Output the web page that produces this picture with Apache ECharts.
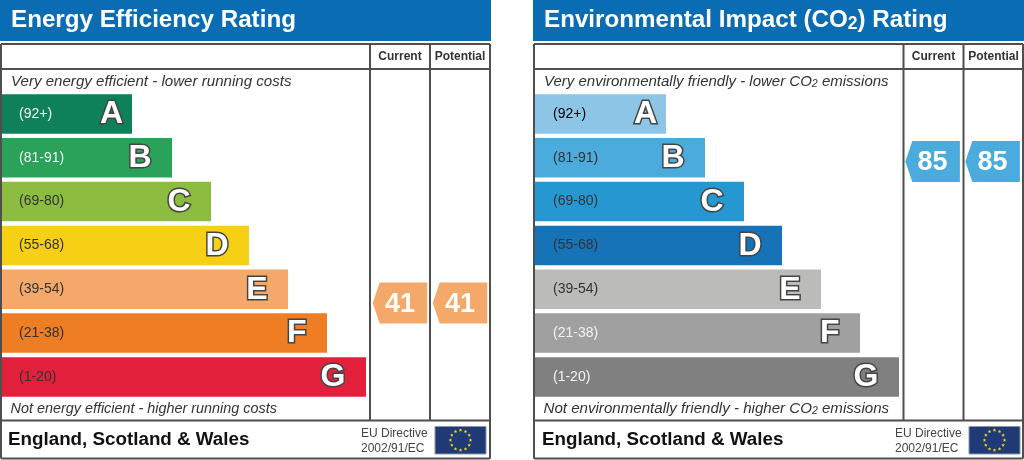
<!DOCTYPE html>
<html><head><meta charset="utf-8">
<style>html,body{margin:0;padding:0;background:#fff}#c{width:1024px;height:460px}</style>
<script src="https://cdn.jsdelivr.net/npm/echarts@6/dist/echarts.min.js"></script>
</head><body><div id="c"></div>
<script>
const ranges = ['(92+)','(81-91)','(69-80)','(55-68)','(39-54)','(21-38)','(1-20)'];
const letters = ['A','B','C','D','E','F','G'];
const columns = ['Current','Potential'];
const energyBars = [131,171,210,248,287,326,365];
const energyColors = ['#0f815a','#2aa25a','#8dbd40','#f6d014','#f4a96a','#ee7d23','#e2203c'];
const energyRangeInk = ['#f2f2f2','#f2f2f2','#333','#333','#333','#333','#333'];
const energyRatings = [41,41];
const energyTag = '#f4a96a';
const co2Bars = [131,170,209,247,286,325,364];
const co2Colors = ['#8dc5e6','#4aabdc','#2698d1','#1673b8','#bbbbb9','#a0a0a0','#808080'];
const co2RangeInk = ['#000','#333','#333','#333','#333','#f2f2f2','#f2f2f2'];
const co2Ratings = [85,85];
const co2Tag = '#4aabdc';
const FONT = '"Liberation Sans", Arial, sans-serif';
const TAG = 'path://M7,0 L54.5,0 L54.5,41 L7,41 L0,20.5 Z';

const chart = echarts.init(document.getElementById('c'), null, {renderer:'canvas'});

function panelAxes(i, x0, tx0){
  return {
    grid:[
      {left:x0, top:92, width:369, height:306.8, containLabel:false},
      {left:tx0, top:113.3, width:120, height:321.6}
    ],
    xAxis:[
      {gridIndex:2*i, type:'value', min:0, max:369, show:false},
      {gridIndex:2*i+1, type:'category', data:columns, show:false}
    ],
    yAxis:[
      {gridIndex:2*i, type:'category', inverse:true, data:ranges, z:5,
       axisLine:{show:false}, axisTick:{show:false}, splitLine:{show:false},
       axisLabel:{inside:true, margin:18, fontFamily:FONT, fontSize:14,
         textBorderWidth:0.35,
         textBorderColor:'inherit',
         color:(v,idx)=>(i===0?energyRangeInk:co2RangeInk)[idx]}},
      {gridIndex:2*i+1, type:'value', min:0, max:100, show:false}
    ]
  };
}
function panelSeries(i, bars, colors, ratings, tag){
  return [
    {type:'bar', xAxisIndex:2*i, yAxisIndex:2*i, barWidth:39.5, silent:true,
     data:bars.map((v,k)=>({value:v,
       itemStyle:{color:colors[k]},
       label:{show:true, position:'insideRight', distance:k===0?9:20.5, formatter:letters[k], offset:[0,0.5],
         fontFamily:FONT, fontSize:32, fontWeight:'bold', color:'#fff', textBorderColor:'#444', textBorderWidth:3}}))},
    {type:'scatter', xAxisIndex:2*i+1, yAxisIndex:2*i+1, silent:true,
     symbol:TAG, symbolSize:[54.5,41], itemStyle:{color:tag, opacity:1},
     label:{show:true, position:'inside', formatter:p=>String(p.value[1]), offset:[0,1.5],
       fontFamily:FONT, fontSize:27, fontWeight:'bold', color:'#fff'},
     data:columns.map((c,k)=>[c, ratings[k]])}
  ];
}
const L = panelAxes(0, 1, 370), R = panelAxes(1, 535, 902.6);

function txt(x,y,text,o){
  return {type:'text', x, y, z:10, silent:true, style:Object.assign({text, fontFamily:FONT, fill:'#333', verticalAlign:'middle'}, o)};
}
function line(x1,y1,x2,y2){
  return {type:'line', z:8, silent:true, shape:{x1,y1,x2,y2}, style:{stroke:'#4f4f4f', lineWidth:2}};
}
function flag(x){
  const items=[{type:'rect', z:9, silent:true, shape:{x,y:426.5,width:51,height:27.5}, style:{fill:'#1f3a75', stroke:'#8a93a8', lineWidth:1}}];
  const cx=x+25.5, cy=440.2, r=10;
  for(let k=0;k<12;k++){
    const a=k*Math.PI/6, sx=cx+r*Math.sin(a), sy=cy-r*Math.cos(a), pts=[];
    for(let j=0;j<10;j++){
      const rr=j%2?0.85:1.9, b=j*Math.PI/5;
      pts.push([sx+rr*Math.sin(b), sy-rr*Math.cos(b)]);
    }
    items.push({type:'polygon', z:10, silent:true, shape:{points:pts}, style:{fill:'#f4d21f'}});
  }
  return items;
}
function panelGraphics(x0, vx, right, title, top, bottom, rich, ftx, topSize, botSize, engX){
  return [
    {type:'rect', z:7, silent:true, shape:{x:x0,y:0,width:right-x0+1,height:41}, style:{fill:'#0a6cb2'}},
    txt(x0+11,20.5,title,{fill:'#fff', fontSize:24.2, fontWeight:'bold', rich}),
    line(x0+1,44,right,44), line(x0+1,69,right,69), line(x0+1,420.5,right,420.5), line(x0+1,458.5,right,458.5),
    line(x0+1,44,x0+1,458.5), line(vx,44,vx,420.5), line(vx+60,44,vx+60,420.5), line(right,44,right,458.5),
    txt(vx+30,57,columns[0],{fontSize:12,fontWeight:'bold',align:'center',fill:'#333'}),
    txt(vx+90,57,columns[1],{fontSize:12,fontWeight:'bold',align:'center',fill:'#333'}),
    txt(x0+11,82,top,{fontSize:topSize,fontStyle:'italic',rich}),
    txt(x0+10.5,409,bottom,{fontSize:botSize,fontStyle:'italic',rich}),
    txt(engX,439.5,'England, Scotland & Wales',{fontSize:18.8,fontWeight:'bold',fill:'#111'}),
    txt(ftx,433.5,'EU Directive',{fontSize:12,fill:'#444'}),
    txt(ftx,448.5,'2002/91/EC',{fontSize:12,fill:'#444'}),
    ...flag(ftx+74)
  ];
}
const richT={s:{fontFamily:FONT,fontSize:17.5,fontWeight:'bold',fill:'#fff',padding:[8,0,0,0]}};
const richI={t:{fontFamily:FONT,fontSize:10.5,fontStyle:'italic',fill:'#333',padding:[5,0,0,0]}};

chart.setOption({
  animation:false,
  backgroundColor:'#ffffff',
  grid:[...L.grid,...R.grid],
  xAxis:[...L.xAxis,...R.xAxis],
  yAxis:[...L.yAxis,...R.yAxis],
  series:[...panelSeries(0,energyBars,energyColors,energyRatings,energyTag),
          ...panelSeries(1,co2Bars,co2Colors,co2Ratings,co2Tag)],
  graphic:[
    ...panelGraphics(0,370,490,'Energy Efficiency Rating','Very energy efficient - lower running costs','Not energy efficient - higher running costs',richI,361,15.1,14.4,8),
    ...panelGraphics(533,903.5,1023,'Environmental Impact (CO{s|2}) Rating','Very environmentally friendly - lower CO{t|2} emissions','Not environmentally friendly - higher CO{t|2} emissions',Object.assign({},richT,richI),895,15,15.1,542)
  ]
});
</script></body></html>
